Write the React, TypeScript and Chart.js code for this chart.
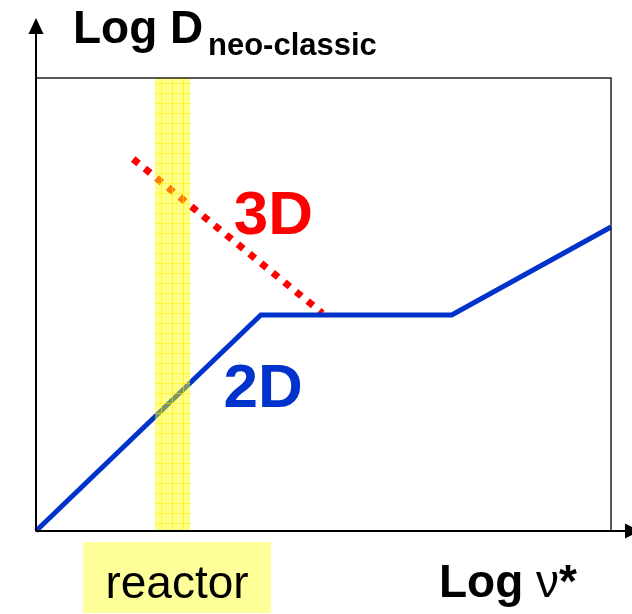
import React, { useEffect, useRef } from "react";
import { Chart, registerables } from "chart.js";

Chart.register(...registerables);

// Axis range (arbitrary log units, 0..100 on both axes)
const axisMin = 0;
const axisMax = 100;

// 2D neo-classical diffusion: rises, plateau, then rises again
const curve2DX = [0, 39.1, 72.3, 100];
const curve2DY = [0, 47.7, 47.7, 67.1];

// 3D (1/ν regime) joining the plateau
const curve3DX = [16.9, 49.8];
const curve3DY = [82.1, 48.1];

// Reactor collisionality range
const reactorBand = [20.7, 26.8];

// Series labels and their anchor positions (x, baseline y)
const seriesLabels = ["2D", "3D"];
const labelX = [39.5, 41.3];
const labelY = [27.4, 65.6];

const yTitle = "Log D";
const yTitleSub = "neo-classic";
const xTitleLog = "Log ";
const xTitleNu = "ν";
const xTitleStar = "*";
const bandLabel = "reactor";

const FONT = "'Liberation Sans', Arial, Helvetica, sans-serif";
const BLUE = "#0033CC";
const RED = "#FF0000";

const decorPlugin = {
  id: "decor",
  afterDatasetsDraw(chart: any) {
    const ctx: CanvasRenderingContext2D = chart.ctx;
    const { left, top, right, bottom } = chart.chartArea;
    const xs = chart.scales.x;
    const ys = chart.scales.y;
    ctx.save();

    // reactor band, translucent over the curves
    const bx0 = xs.getPixelForValue(reactorBand[0]);
    const bx1 = xs.getPixelForValue(reactorBand[1]);
    ctx.fillStyle = "rgba(255,255,0,0.48)";
    ctx.fillRect(bx0, top, bx1 - bx0, bottom - top);
    ctx.strokeStyle = "rgba(255,235,0,0.55)";
    ctx.lineWidth = 1;
    ctx.beginPath();
    for (let x = bx0 + 6; x < bx1; x += 11) {
      ctx.moveTo(Math.round(x) + 0.5, top);
      ctx.lineTo(Math.round(x) + 0.5, bottom);
    }
    for (let y = top + 5; y < bottom; y += 10) {
      ctx.moveTo(bx0, Math.round(y) + 0.5);
      ctx.lineTo(bx1, Math.round(y) + 0.5);
    }
    ctx.stroke();

    // frame
    ctx.strokeStyle = "#222";
    ctx.lineWidth = 1.5;
    ctx.strokeRect(left, top, right - left, bottom - top);

    // axes with arrows
    ctx.strokeStyle = "#000";
    ctx.fillStyle = "#000";
    ctx.lineWidth = 2;
    ctx.beginPath();
    ctx.moveTo(left, bottom);
    ctx.lineTo(left, 30);
    ctx.moveTo(left, bottom);
    ctx.lineTo(chart.width, bottom);
    ctx.stroke();
    ctx.beginPath();
    ctx.moveTo(left, 18);
    ctx.lineTo(left - 7.5, 34);
    ctx.lineTo(left + 7.5, 34);
    ctx.closePath();
    ctx.fill();
    ctx.beginPath();
    ctx.moveTo(chart.width + 8, bottom);
    ctx.lineTo(chart.width - 7, bottom - 7.5);
    ctx.lineTo(chart.width - 7, bottom + 7.5);
    ctx.closePath();
    ctx.fill();

    // series labels
    ctx.textAlign = "center";
    ctx.textBaseline = "alphabetic";
    ctx.font = `bold 62px ${FONT}`;
    seriesLabels.forEach((t, i) => {
      ctx.fillStyle = i === 0 ? BLUE : RED;
      ctx.fillText(t, xs.getPixelForValue(labelX[i]), ys.getPixelForValue(labelY[i]));
    });

    // y-axis title with subscript
    ctx.fillStyle = "#000";
    ctx.textAlign = "left";
    ctx.font = `bold 46px ${FONT}`;
    ctx.fillText(yTitle, 73, 43);
    ctx.font = `bold 31px ${FONT}`;
    ctx.fillText(yTitleSub, 208, 55);

    // x-axis title: bold "Log", regular Greek nu, bold star
    let tx = 439;
    ctx.font = `bold 46px ${FONT}`;
    ctx.fillText(xTitleLog, tx, 597);
    tx += ctx.measureText(xTitleLog).width;
    ctx.font = `46px ${FONT}`;
    ctx.fillText(xTitleNu, tx, 597);
    tx += ctx.measureText(xTitleNu).width;
    ctx.font = `bold 46px ${FONT}`;
    ctx.fillText(xTitleStar, tx, 597);

    // reactor label box
    ctx.fillStyle = "#FFFF99";
    ctx.fillRect(83, 542, 188, 71);
    ctx.fillStyle = "#000";
    ctx.textAlign = "center";
    ctx.font = `46px ${FONT}`;
    ctx.fillText(bandLabel, 177, 598);

    ctx.restore();
  },
};

export default function App() {
  const canvasRef = useRef<HTMLCanvasElement | null>(null);

  useEffect(() => {
    if (!canvasRef.current) return;
    const chart = new Chart(canvasRef.current, {
      type: "scatter",
      data: {
        datasets: [
          {
            label: seriesLabels[0],
            data: curve2DX.map((x, i) => ({ x, y: curve2DY[i] })),
            showLine: true,
            borderColor: BLUE,
            borderWidth: 5,
            pointRadius: 0,
            borderJoinStyle: "miter",
            clip: false,
          },
          {
            label: seriesLabels[1],
            data: curve3DX.map((x, i) => ({ x, y: curve3DY[i] })),
            showLine: true,
            borderColor: RED,
            borderWidth: 7,
            borderDash: [7, 8],
            borderCapStyle: "butt",
            pointRadius: 0,
            clip: false,
          },
        ],
      },
      options: {
        responsive: false,
        animation: false,
        layout: { padding: { left: 36, top: 78, right: 21, bottom: 83 } },
        scales: {
          x: { type: "linear", min: axisMin, max: axisMax, display: false },
          y: { type: "linear", min: axisMin, max: axisMax, display: false },
        },
        plugins: {
          legend: { display: false },
          tooltip: { enabled: false },
        },
      },
      plugins: [decorPlugin],
    });
    return () => chart.destroy();
  }, []);

  return (
    <div style={{ position: "absolute", left: 0, top: 0, width: 632, height: 614, background: "#fff" }}>
      <canvas ref={canvasRef} width={632} height={614} style={{ display: "block" }} />
    </div>
  );
}
